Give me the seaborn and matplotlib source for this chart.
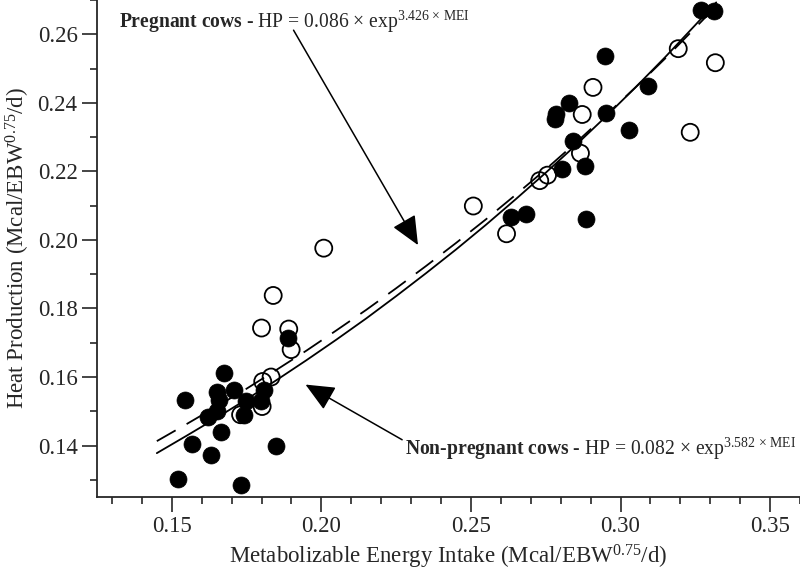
import pandas as pd
import matplotlib
matplotlib.use("Agg")
import matplotlib.pyplot as plt
import seaborn as sns
from matplotlib.ticker import MultipleLocator

# filled circles
filled_mei = [0.3269, 0.3313, 0.2949, 0.3091, 0.2827, 0.2786, 0.2782, 0.2952, 0.3030,
              0.2841, 0.2804, 0.2882, 0.2683, 0.2633, 0.2883,
              0.1889, 0.1674, 0.1545, 0.1652, 0.1658, 0.1708, 0.1652, 0.1621, 0.1747,
              0.1741, 0.1808, 0.1797, 0.1663, 0.1567, 0.1630, 0.1847, 0.1522, 0.1733]
filled_hp = [0.2672, 0.2668, 0.2536, 0.2449, 0.2400, 0.2366, 0.2352, 0.2371, 0.2322,
             0.2290, 0.2207, 0.2216, 0.2076, 0.2066, 0.2060,
             0.1714, 0.1612, 0.1532, 0.1555, 0.1534, 0.1563, 0.1500, 0.1483, 0.1529,
             0.1490, 0.1563, 0.1529, 0.1439, 0.1406, 0.1372, 0.1398, 0.1303, 0.1284]

# open circles
open_mei = [0.3193, 0.3317, 0.3233, 0.2908, 0.2872, 0.2866, 0.2756, 0.2730, 0.2508,
            0.2619, 0.2008, 0.1839, 0.1800, 0.1891, 0.1899, 0.1832, 0.1804, 0.1802, 0.1730]
open_hp = [0.2558, 0.2517, 0.2314, 0.2445, 0.2366, 0.2253, 0.2189, 0.2173, 0.2099,
           0.2018, 0.1976, 0.1838, 0.1743, 0.1740, 0.1680, 0.1600, 0.1587, 0.1514, 0.1490]

# fitted curves
curve_mei = [0.145, 0.155, 0.165, 0.175, 0.185, 0.195, 0.205, 0.215, 0.225, 0.235,
             0.245, 0.255, 0.265, 0.275, 0.285, 0.295, 0.305, 0.315, 0.325, 0.332]
nonpreg_hp = [0.1378, 0.1429, 0.1481, 0.1535, 0.1591, 0.1649, 0.1709, 0.1771, 0.1836, 0.1903,
              0.1972, 0.2044, 0.2119, 0.2196, 0.2276, 0.2359, 0.2445, 0.2534, 0.2627, 0.2693]
preg_hp = [0.1413, 0.1463, 0.1514, 0.1566, 0.1621, 0.1677, 0.1736, 0.1796, 0.1859, 0.1924,
           0.1991, 0.2060, 0.2132, 0.2206, 0.2283, 0.2363, 0.2445, 0.2530, 0.2619, 0.2682]

sns.set_style("ticks")
plt.rcParams['font.family'] = ['Liberation Serif', 'DejaVu Serif']
plt.rcParams['mathtext.fontset'] = 'custom'
plt.rcParams['mathtext.rm'] = 'Liberation Serif'
plt.rcParams['mathtext.it'] = 'Liberation Serif:italic'
plt.rcParams['mathtext.bf'] = 'Liberation Serif:bold'

fig = plt.figure(figsize=(8, 5.72), dpi=100)
ax = fig.add_axes([97 / 800, 75 / 572, 703 / 800, 497 / 572])

df_open = pd.DataFrame({'MEI': open_mei, 'HP': open_hp})
df_filled = pd.DataFrame({'MEI': filled_mei, 'HP': filled_hp})
df_np = pd.DataFrame({'MEI': curve_mei, 'HP': nonpreg_hp})
df_p = pd.DataFrame({'MEI': curve_mei, 'HP': preg_hp})

sns.lineplot(data=df_np, x='MEI', y='HP', ax=ax, color='black', lw=1.3, zorder=3)
sns.lineplot(data=df_p, x='MEI', y='HP', ax=ax, color='black', lw=1.3, zorder=3)
ax.lines[-1].set_dashes((12, 7))
sns.scatterplot(data=df_open, x='MEI', y='HP', ax=ax, s=150, facecolor='none',
                edgecolor='black', linewidth=1.3, zorder=2)
sns.scatterplot(data=df_filled, x='MEI', y='HP', ax=ax, s=150, color='black',
                edgecolor='black', linewidth=0.5, zorder=4)

ax.set_xlim(0.125, 0.36)
ax.set_ylim(0.125, 0.270)
ax.xaxis.set_major_locator(MultipleLocator(0.05))
ax.xaxis.set_minor_locator(MultipleLocator(0.01))
ax.yaxis.set_major_locator(MultipleLocator(0.02))
ax.yaxis.set_minor_locator(MultipleLocator(0.01))
ax.xaxis.set_major_formatter(plt.FormatStrFormatter('%.2f'))
ax.yaxis.set_major_formatter(plt.FormatStrFormatter('%.2f'))
ax.tick_params(which='major', length=11, width=1.2, labelsize=16.5, pad=3)
ax.tick_params(which='minor', length=5, width=1.2)
for side in ['top', 'right']:
    ax.spines[side].set_visible(False)
for side in ['left', 'bottom']:
    ax.spines[side].set_linewidth(1.3)

ax.set_xlabel('Metabolizable Energy Intake (Mcal/EBW$^{0.75}$/d)', fontsize=16.5)
ax.set_ylabel('Heat Production (Mcal/EBW$^{0.75}$/d)', fontsize=16.5)
ax.yaxis.set_label_coords(-0.093, 0.5)

ax.text(0.1323, 0.2618, r'$\mathbf{Pregnant\ cows}$ - HP = 0.086 $\times$ exp$^{3.426\,\times\,\mathrm{MEI}}$',
        fontsize=14.1, va='baseline', ha='left')
ax.text(0.228, 0.1374, r'$\mathbf{Non\text{-}pregnant\ cows}$ - HP = 0.082 $\times$ exp$^{3.582\,\times\,\mathrm{MEI}}$',
        fontsize=14.1, va='baseline', ha='left')

arrow = dict(arrowstyle='-|>,head_length=0.9,head_width=0.4', color='black',
             lw=1.1, mutation_scale=20, shrinkA=0, shrinkB=0)
ax.annotate('', xy=(0.2323, 0.1985), xytext=(0.1907, 0.2612), arrowprops=arrow)
ax.annotate('', xy=(0.1947, 0.1578), xytext=(0.227, 0.1417), arrowprops=arrow)

plt.savefig('out.png', dpi=100)
